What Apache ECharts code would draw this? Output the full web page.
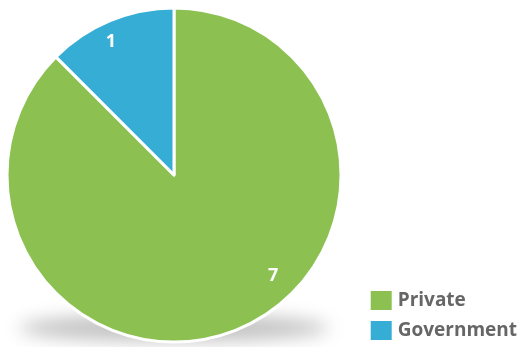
<!DOCTYPE html>
<html><head><meta charset="utf-8">
<script src="https://cdn.jsdelivr.net/npm/echarts@6/dist/echarts.min.js"></script>
<style>html,body{margin:0;padding:0;background:#fff}#c{width:525px;height:347px}</style>
</head><body><div id="c"></div>
<script>
const categories = ['Private', 'Government'];
const values = [7, 1];
const colors = ['#8CC152', '#36ADD4'];
const labelOffsets = [[66, 21], [-30, -53]];

const chart = echarts.init(document.getElementById('c'));
chart.setOption({
  animation: false,
  legend: {
    orient: 'vertical', right: 3, bottom: 0,
    itemWidth: 23, itemHeight: 21, itemGap: 7,
    icon: 'rect',
    textStyle: { fontFamily: 'Open Sans', fontWeight: 'bold', fontSize: 19, lineHeight: 21, color: '#666' },
    data: categories
  },
  graphic: [{
    type: 'ellipse', z: -10,
    shape: { cx: 174, cy: 328 - 2000, rx: 155, ry: 13 },
    style: { fill: '#000', shadowBlur: 18, shadowOffsetY: 2000, shadowColor: 'rgba(0,0,0,0.25)' }
  }],
  series: [{
    type: 'pie', z: 5,
    center: [174, 175], radius: 167,
    startAngle: 90, clockwise: true,
    itemStyle: { borderColor: '#fff', borderWidth: 3 },
    label: { show: true, position: 'inside', color: '#fff', fontFamily: 'Open Sans', fontWeight: 'bold', fontSize: 18, formatter: '{c}' },
    labelLine: { show: false },
    emphasis: { disabled: true },
    data: categories.map((n, i) => ({ name: n, value: values[i], itemStyle: { color: colors[i] }, label: { offset: labelOffsets[i] } }))
  }]
});
</script></body></html>
